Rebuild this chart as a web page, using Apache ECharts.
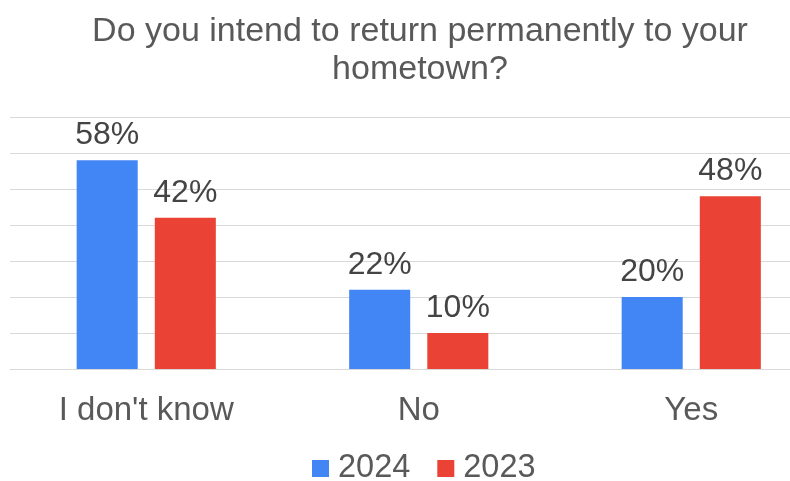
<!DOCTYPE html>
<html>
<head>
<meta charset="utf-8">
<script src="https://cdn.jsdelivr.net/npm/echarts@6/dist/echarts.min.js"></script>
<style>html,body{margin:0;padding:0;background:#fff;overflow:hidden;width:790px;height:481px;}#c{width:840px;height:481px;}</style>
</head>
<body>
<div id="c"></div>
<script>
var categories = ["I don't know", "No", "Yes"];
var seriesNames = ["2024", "2023"];
var values2024 = [58, 22, 20];
var values2023 = [42, 10, 48];

var chart = echarts.init(document.getElementById('c'), null, {renderer: 'canvas'});
var FONT = '"Liberation Sans", Arial, sans-serif';
chart.setOption({
  animation: false,
  backgroundColor: '#ffffff',
  title: {
    text: 'Do you intend to return permanently to your\nhometown?',
    left: 'center',
    top: 13,
    padding: 0,
    textStyle: {fontFamily: FONT, fontSize: 34, fontWeight: 'normal', color: '#595959', lineHeight: 38}
  },
  legend: {
    data: seriesNames,
    left: 312,
    top: 452,
    padding: 0,
    icon: 'rect',
    itemWidth: 17,
    itemHeight: 17,
    itemGap: 27,
    textStyle: {fontFamily: FONT, fontSize: 32.5, color: '#595959', padding: [0, 0, 0, 4]}
  },
  grid: {left: 10, top: 117, right: 12.5, bottom: 112, containLabel: false},
  xAxis: {
    type: 'category',
    data: categories,
    axisLine: {show: true, lineStyle: {color: '#d9d9d9', width: 1}},
    axisTick: {show: false},
    axisLabel: {fontFamily: FONT, fontSize: 33, color: '#595959', margin: 25}
  },
  yAxis: {
    type: 'value',
    min: 0,
    max: 70,
    interval: 10,
    axisLabel: {show: false},
    axisLine: {show: false},
    axisTick: {show: false},
    splitLine: {lineStyle: {color: '#d9d9d9', width: 1}}
  },
  series: [
    {
      name: seriesNames[0], type: 'bar', data: values2024,
      barWidth: '22.4%', barGap: '28%',
      itemStyle: {color: '#4285F4'},
      label: {show: true, position: 'top', distance: 9, formatter: '{c}%', fontFamily: FONT, fontSize: 32, color: '#444444'}
    },
    {
      name: seriesNames[1], type: 'bar', data: values2023,
      barWidth: '22.4%', barGap: '28%',
      itemStyle: {color: '#EA4335'},
      label: {show: true, position: 'top', distance: 9, formatter: '{c}%', fontFamily: FONT, fontSize: 32, color: '#444444'}
    }
  ]
});
</script>
</body>
</html>
